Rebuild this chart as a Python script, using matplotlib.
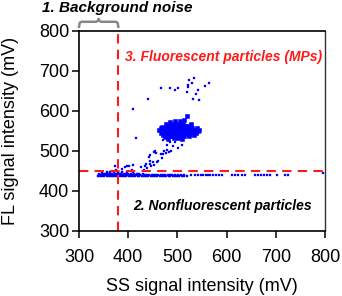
import numpy as np
import matplotlib
matplotlib.use("Agg")
import matplotlib.pyplot as plt

plt.rcParams['font.family'] = ['Liberation Sans', 'DejaVu Sans']

# thresholds (mV)
ss_cut = 380
fl_cut = 450

# background / nonfluorescent band, y ~ 440, rows
band_row1 = [338, 342, 347, 351, 356, 360, 365, 369, 374, 378, 383, 387, 392, 396, 401, 405,
             410, 414, 419, 423, 428, 432, 437, 441, 446, 450, 455, 459, 464, 468, 473, 477,
             482, 486, 491, 495, 500, 504, 509, 514, 519]
band_row2 = [340, 344, 349, 353, 358, 362, 367, 371, 376, 380, 385, 389, 394, 398, 403, 407,
             412, 416, 421, 425, 430, 434, 439, 443, 448, 452, 457, 461, 466, 470, 475, 480,
             485, 490, 496, 502, 508, 514]
band_row3 = [341, 346, 350, 355, 359, 364, 368, 373, 377, 382, 386, 391, 395, 400, 405, 411,
             417, 423, 430]
band_row4 = [347, 356, 363, 371, 379, 388, 398, 409]
band_levels = [437.5, 440, 442.5, 446]

# sparse band to the right
sparse_x = [528, 535, 541, 549, 553, 558, 562, 567, 572, 578, 584, 590, 611, 617, 624,
            631, 637, 658, 664, 670, 676, 682, 688, 702, 719, 725, 797]
sparse_y = [440, 439, 440, 440, 439, 440, 440, 439, 440, 440, 439, 440, 440, 439, 440,
            440, 439, 440, 440, 439, 440, 440, 439, 440, 440, 439, 445]

# points above the band and the tail towards the cluster
tail_x = [373, 393, 402, 409, 427, 434, 444, 451, 461, 375, 388, 398, 408, 432, 439,
          446, 452, 459, 437, 444, 442, 444, 452, 456, 466, 468, 473, 477, 483, 454,
          471, 478, 488, 502, 492, 509, 478, 471, 485, 495, 416]
tail_y = [462, 459, 462, 465, 459, 462, 467, 471, 475, 452, 455, 461, 451, 452, 457,
          462, 465, 471, 467, 474, 484, 490, 498, 494, 492, 482, 500, 494, 498, 499,
          492, 501, 500, 507, 511, 515, 515, 527, 523, 521, 533]

# main fluorescent cluster (MPs)
blob_x = [489, 494, 500, 506, 512,
          480, 484, 488, 495, 499, 506, 510, 517, 522,
          474, 477, 483, 487, 494, 498, 505, 509, 516, 520, 527, 530,
          470, 476, 480, 487, 491, 498, 502, 509, 513, 520, 524, 531, 535,
          473, 477, 484, 488, 495, 499, 506, 510, 517, 521, 528, 532,
          478, 482, 486, 493, 497, 504, 508, 515, 519, 525,
          485, 489, 492, 500, 503, 511, 514,
          494, 501,
          463, 466, 468, 540, 541, 519, 513, 495, 505, 528, 470, 474, 480, 533, 545, 485, 510,
          538, 466, 477, 524]
blob_y = [567, 566, 568, 567, 566,
          562, 561, 563, 562, 561, 563, 562, 561, 563,
          557, 556, 558, 557, 556, 558, 557, 556, 558, 557, 556, 558,
          552, 551, 553, 552, 551, 553, 552, 551, 553, 552, 551, 553, 552,
          547, 546, 548, 547, 546, 548, 547, 546, 548, 547, 546, 548,
          542, 541, 543, 542, 541, 543, 542, 541, 543, 542,
          537, 536, 538, 537, 536, 538, 537,
          532, 533,
          552, 545, 560, 558, 549, 586, 578, 575, 574, 568, 540, 535, 530, 540, 553, 572, 529,
          545, 556, 568, 537]

# sparse upper group
upper_x = [485, 495, 501, 519, 521, 521, 524, 530, 534, 537, 532, 542, 545, 556, 565,
           467, 440, 410]
upper_y = [658, 652, 658, 646, 665, 659, 677, 669, 681, 642, 629, 651, 628, 663, 669,
           658, 629, 604]

band_x, band_y = [], []
for row, level in zip([band_row1, band_row2, band_row3, band_row4], band_levels):
    band_x += row
    band_y += [level] * len(row)

fig = plt.figure(figsize=(3.42, 2.96), dpi=100)
ax = fig.add_axes([0.231, 0.220, 0.719, 0.676])

blue = '#0000ff'
ax.scatter(band_x, band_y, s=3.5, marker='s', c=blue, edgecolors=blue, lw=0.3)
ax.scatter(sparse_x, sparse_y, s=2.5, marker='s', c=blue, edgecolors=blue, lw=0.2)
ax.scatter(tail_x, tail_y, s=2.5, marker='s', c=blue, edgecolors=blue, lw=0.2)
ax.scatter(blob_x, blob_y, s=6, marker='s', c=blue, edgecolors=blue, lw=0.4)
ax.scatter(upper_x, upper_y, s=2.5, marker='s', c=blue, edgecolors=blue, lw=0.2)

red = '#ff1a1a'
ax.axvline(ss_cut, color=red, lw=1.5, dashes=(4.5, 3))
ax.axhline(fl_cut, color=red, lw=1.5, dashes=(4.5, 3))

ax.set_xlim(300, 800)
ax.set_ylim(300, 800)
ax.set_xticks(range(300, 801, 100))
ax.set_yticks(range(300, 801, 100))
ax.tick_params(direction='out', length=5, width=1.1, labelsize=13)
ax.tick_params(axis='x', pad=8)
ax.tick_params(axis='y', pad=2)
ax.tick_params(top=False, right=False)
for side in ['left', 'bottom', 'top']:
    ax.spines[side].set_linewidth(1.2)
ax.spines['right'].set_linewidth(1.0)
ax.spines['right'].set_color('#333333')

ax.set_xlabel('SS signal intensity (mV)', fontsize=13, labelpad=9)
ax.set_ylabel('FL signal intensity (mV)', fontsize=13, labelpad=14)

ax.text(393, 735, '3. Fluorescent particles (MPs)', color=red, fontsize=10,
        fontweight='bold', fontstyle='italic', va='center', ha='left')
ax.text(410, 362, '2. Nonfluorescent particles', color='black', fontsize=10,
        fontweight='bold', fontstyle='italic', va='center', ha='left')
ax.text(0.123, 0.972, '1. Background noise', transform=fig.transFigure, fontsize=11,
        fontweight='bold', fontstyle='italic', va='center', ha='left')

# bracket over the background region
bx = [300, 301.5, 305, 335, 338.5, 340, 341.5, 345, 375, 378.5, 380]
by = [810, 820, 822.5, 822.5, 825, 830, 825, 822.5, 822.5, 820, 810]
ax.plot(bx, by, color='#888888', lw=1.8, clip_on=False, solid_joinstyle='round')

fig.savefig('out.png', dpi=100)
